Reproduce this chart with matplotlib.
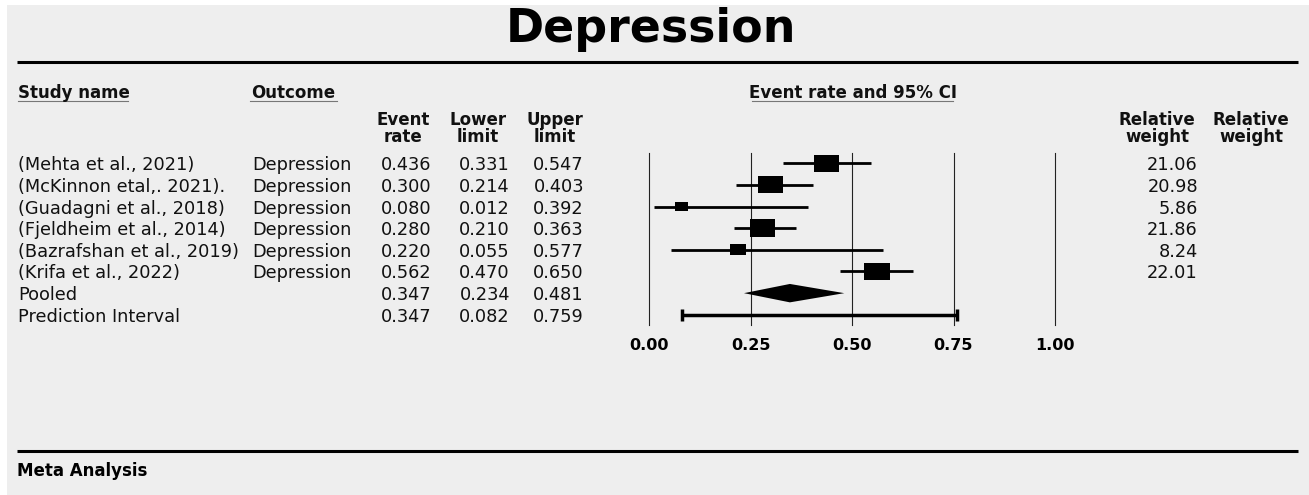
import numpy as np
import matplotlib
matplotlib.use('Agg')
import matplotlib.pyplot as plt
from matplotlib.patches import Rectangle, Polygon
from matplotlib.transforms import blended_transform_factory

studies = ['(Mehta et al., 2021)', '(McKinnon etal,. 2021).', '(Guadagni et al., 2018)',
           '(Fjeldheim et al., 2014)', '(Bazrafshan et al., 2019)', '(Krifa et al., 2022)']
outcomes = ['Depression'] * 6
event_rate = [0.436, 0.300, 0.080, 0.280, 0.220, 0.562]
lower = [0.331, 0.214, 0.012, 0.210, 0.055, 0.470]
upper = [0.547, 0.403, 0.392, 0.363, 0.577, 0.650]
weights = [21.06, 20.98, 5.86, 21.86, 8.24, 22.01]
pooled = [0.347, 0.234, 0.481]
pred_interval = [0.347, 0.082, 0.759]
xticks = [0.00, 0.25, 0.50, 0.75, 1.00]

W, H = 1309, 495
BG = '#eeeeee'
plt.rcParams['font.family'] = ['DejaVu Sans']

fig = plt.figure(figsize=(W / 100, H / 100), dpi=100)
fig.patch.set_facecolor('white')

# page layout axes in pixel units
lay = fig.add_axes([0, 0, 1, 1])
lay.set_xlim(0, W)
lay.set_ylim(H, 0)
lay.axis('off')
lay.add_patch(Rectangle((7, 5), W - 7, H - 5, facecolor=BG, edgecolor='none', zorder=0))

# forest plot axes: x 0..1 spans pixels 649..1055
fl, ft, fw, fh = 649, 153, 406, 172
ax = fig.add_axes([fl / W, 1 - (ft + fh) / H, fw / W, fh / H], zorder=2)
ax.patch.set_alpha(0)
ax.set_xlim(0, 1)
ax.set_ylim(7.47, -0.47)
for s in ax.spines.values():
    s.set_visible(False)
ax.set_yticks([])
ax.set_xticks(xticks)
ax.set_xticklabels(['%.2f' % t for t in xticks], fontweight='bold', fontsize=11.5)
ax.tick_params(axis='x', length=0, pad=9)
for t in xticks:
    ax.axvline(t, color='#222222', lw=0.8, clip_on=False, zorder=1)

px_x = fw / 1.0
px_y = fh / 7.94
n = len(studies)
rows = np.arange(n)
for i in range(n):
    ax.plot([lower[i], upper[i]], [rows[i], rows[i]], color='black', lw=2, solid_capstyle='butt', zorder=3)
    bw = 5.45 * np.sqrt(weights[i])
    bh = 0.69 * bw
    ax.add_patch(Rectangle((event_rate[i] - bw / px_x / 2, rows[i] - bh / px_y / 2),
                           bw / px_x, bh / px_y, facecolor='black', edgecolor='none', zorder=4))

# pooled diamond
yp = n
dh = 9.2 / px_y
ax.add_patch(Polygon([[pooled[1], yp], [pooled[0], yp - dh], [pooled[2], yp], [pooled[0], yp + dh]],
                     closed=True, facecolor='black', edgecolor='none', zorder=4))

# prediction interval
yq = n + 1
ax.plot([pred_interval[1], pred_interval[2]], [yq, yq], color='black', lw=2.5, solid_capstyle='butt', zorder=3)
ax.plot([pred_interval[1], pred_interval[2]], [yq, yq], ls='none', marker='|', ms=8, mew=2.5, color='black', zorder=4)

# table text
tr = blended_transform_factory(lay.transData, ax.transData)
fs = 12.8
labels = studies + ['Pooled', 'Prediction Interval']
outs = outcomes + ['', '']
rates = event_rate + [pooled[0], pred_interval[0]]
lows = lower + [pooled[1], pred_interval[1]]
ups = upper + [pooled[2], pred_interval[2]]
for i in range(len(labels)):
    kw = dict(transform=tr, va='center_baseline', fontsize=fs, color='#111111')
    lay.text(18, i, labels[i], ha='left', **kw)
    lay.text(252, i, outs[i], ha='left', **kw)
    lay.text(431, i, '%.3f' % rates[i], ha='right', **kw)
    lay.text(510, i, '%.3f' % lows[i], ha='right', **kw)
    lay.text(584, i, '%.3f' % ups[i], ha='right', **kw)
    if i < n:
        lay.text(1198, i, '%.2f' % weights[i], ha='right', **kw)

# headers
hk = dict(fontsize=12, fontweight='bold', va='baseline', color='#111111')
lay.text(18, 98, 'Study name', ha='left', **hk)
lay.text(251, 98, 'Outcome', ha='left', **hk)
lay.text(853, 98, 'Event rate and 95% CI', ha='center', **hk)
for x0, x1 in [(18, 128), (250, 337), (752, 953)]:
    lay.plot([x0, x1], [101, 101], color='#777777', lw=0.8)
for xc, a, b in [(403, 'Event', 'rate'), (478, 'Lower', 'limit'), (555, 'Upper', 'limit'),
                 (1157, 'Relative', 'weight'), (1251, 'Relative', 'weight')]:
    lay.text(xc, 125, a, ha='center', **hk)
    lay.text(xc, 142, b, ha='center', **hk)

# title, rules, footer
lay.text(651, 42, 'Depression', ha='center', va='baseline', fontsize=33, fontweight='bold', color='black')
lay.plot([17, 1298], [61.5, 61.5], color='black', lw=2.2, solid_capstyle='butt')
lay.plot([17, 1298], [451, 451], color='black', lw=2.2, solid_capstyle='butt')
lay.text(17, 476, 'Meta Analysis', ha='left', va='baseline', fontsize=12, fontweight='bold', color='black')

fig.savefig('out.png', dpi=100, facecolor=fig.get_facecolor())
plt.close(fig)
